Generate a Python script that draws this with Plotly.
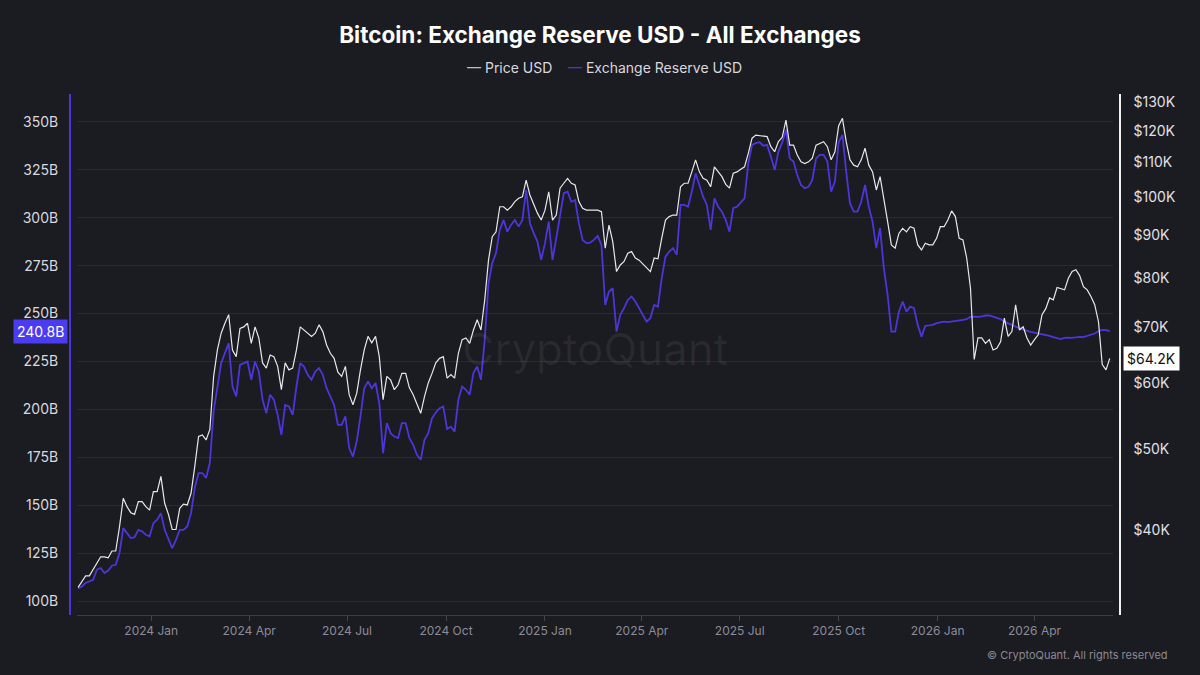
import math
import pandas as pd
import plotly.graph_objects as go

# ---------------- data (readings every 3.5 days from the chart) ----------------
start_date = "2023-10-25"

price_usd_k = [
    34.2, 34.8, 35.3, 35.3, 35.9, 36.6, 37.2, 37.2, 37.1, 37.8,
    37.8, 40.4, 43.7, 42.7, 42.0, 41.8, 43.3, 43.3, 42.7, 42.3,
    44.5, 44.5, 46.4, 43.1, 41.8, 40.1, 40.1, 42.5, 43.0, 42.9,
    44.3, 47.7, 51.8, 52.0, 51.3, 52.8, 61.1, 65.7, 68.8, 70.7,
    72.4, 65.7, 64.5, 69.7, 70.0, 70.7, 66.9, 70.0, 67.9, 63.4,
    62.5, 64.8, 64.5, 62.8, 58.9, 63.4, 62.2, 62.5, 65.7, 70.0,
    69.4, 68.8, 68.2, 68.8, 70.4, 69.1, 66.6, 65.1, 64.2, 61.8,
    61.1, 62.8, 58.1, 56.5, 58.3, 62.2, 65.7, 68.2, 67.0, 68.2,
    64.5, 57.3, 61.1, 60.5, 58.9, 59.7, 61.6, 61.6, 59.2, 58.1,
    56.5, 55.2, 57.8, 60.0, 61.6, 63.4, 64.2, 64.5, 60.8, 61.4,
    60.8, 65.1, 67.6, 67.9, 66.9, 69.4, 71.4, 69.4, 75.4, 84.1,
    89.7, 90.9, 97.4, 97.4, 96.5, 97.4, 98.8, 99.7, 100.1, 104.8,
    100.6, 97.9, 95.7, 93.9, 96.5, 101.5, 93.9, 95.2, 102.5, 103.9,
    105.3, 103.9, 103.4, 98.8, 97.0, 96.5, 96.5, 96.5, 96.5, 96.1,
    86.9, 92.6, 88.5, 81.5, 83.0, 83.8, 85.7, 86.1, 84.6, 84.1,
    83.2, 82.3, 81.5, 84.6, 84.4, 89.3, 93.9, 94.8, 95.2, 95.2,
    102.9, 103.9, 103.9, 107.2, 110.8, 107.2, 105.3, 104.8, 102.9, 108.7,
    107.2, 105.8, 103.6, 102.5, 106.8, 107.2, 108.0, 108.7, 112.8, 117.6,
    118.6, 118.4, 118.1, 118.1, 114.9, 113.3, 116.5, 117.9, 123.6, 115.4,
    115.4, 112.3, 110.2, 109.7, 110.2, 111.3, 115.4, 116.0, 116.5, 114.9,
    110.8, 113.3, 121.7, 124.2, 116.5, 110.8, 109.2, 108.7, 110.8, 114.4,
    109.2, 107.2, 102.0, 105.8, 98.8, 93.5, 87.7, 86.9, 90.5, 91.8,
    90.9, 92.2, 91.8, 87.7, 86.5, 88.1, 87.7, 87.7, 89.3, 92.2,
    92.2, 93.9, 96.3, 94.8, 89.3, 88.9, 84.6, 77.9, 64.0, 67.9,
    67.9, 66.9, 67.6, 65.7, 66.0, 67.2, 71.7, 68.2, 69.1, 74.4,
    69.4, 70.0, 67.9, 66.6, 67.6, 68.5, 72.4, 73.6, 75.8, 75.4,
    78.0, 77.7, 77.5, 80.0, 81.5, 81.9, 80.6, 78.2, 77.5, 76.1,
    74.4, 71.0, 63.1, 62.2, 64.2,
]

reserve_usd_b = [
    106.8, 107.8, 109.6, 110.4, 111.3, 116.5, 117.4, 114.8, 116.1, 118.6,
    119.1, 125.2, 138.2, 135.6, 133.0, 133.5, 137.3, 136.5, 134.7, 133.9,
    140.8, 142.6, 146.0, 137.3, 133.0, 127.8, 132.1, 137.3, 137.3, 139.1,
    146.0, 159.1, 166.9, 166.9, 164.3, 172.1, 199.0, 212.0, 224.2, 229.4,
    234.6, 212.0, 206.8, 223.3, 224.2, 225.0, 215.5, 225.0, 219.8, 205.1,
    198.1, 207.7, 205.1, 197.2, 186.8, 202.4, 201.6, 197.2, 212.0, 224.2,
    222.4, 218.1, 215.5, 219.8, 221.6, 218.1, 211.1, 206.8, 202.4, 192.0,
    192.0, 196.4, 179.9, 175.5, 183.3, 196.4, 211.1, 214.6, 211.1, 213.8,
    203.3, 177.3, 192.9, 187.7, 185.9, 185.1, 192.9, 192.9, 185.1, 181.6,
    176.4, 173.8, 184.2, 187.7, 195.5, 198.4, 200.7, 201.6, 189.8, 191.1,
    188.5, 205.1, 212.0, 210.3, 207.7, 219.0, 222.4, 215.5, 236.3, 265.8,
    276.3, 281.5, 293.6, 298.8, 292.7, 296.2, 298.8, 295.3, 298.8, 314.4,
    297.1, 291.9, 287.5, 278.0, 286.7, 297.9, 278.0, 289.3, 302.3, 312.7,
    313.5, 308.3, 309.2, 297.1, 288.4, 286.7, 287.0, 288.4, 290.5, 285.8,
    254.5, 261.5, 263.2, 240.6, 249.3, 252.8, 257.1, 258.9, 256.3, 252.8,
    249.7, 245.8, 247.6, 254.5, 253.6, 268.4, 279.7, 282.3, 284.1, 280.6,
    306.6, 306.6, 305.7, 313.5, 323.1, 317.0, 310.9, 306.6, 293.6, 310.1,
    305.7, 303.1, 298.8, 292.7, 304.9, 305.7, 308.0, 310.1, 328.3, 337.9,
    338.8, 339.3, 337.5, 337.9, 331.8, 324.8, 334.4, 339.1, 345.7, 330.9,
    329.2, 322.2, 317.0, 315.3, 316.1, 319.6, 330.9, 332.7, 332.7, 329.2,
    313.5, 318.8, 339.3, 343.1, 324.0, 307.5, 303.1, 303.1, 308.3, 317.0,
    305.7, 297.9, 284.1, 294.5, 273.6, 259.7, 240.6, 240.6, 251.0, 256.3,
    251.0, 253.6, 252.8, 244.1, 238.0, 243.6, 243.8, 244.1, 245.0, 245.5,
    245.8, 245.5, 245.8, 245.8, 246.4, 246.7, 247.1, 248.3, 248.4, 248.3,
    248.6, 249.0, 249.0, 248.4, 247.9, 247.1, 245.8, 244.8, 244.1, 243.2,
    242.4, 241.5, 241.0, 240.5, 240.1, 239.8, 239.4, 238.9, 238.4, 237.7,
    237.0, 236.7, 237.3, 237.5, 237.3, 237.5, 237.9, 237.7, 238.4, 239.1,
    239.6, 240.8, 241.5, 241.4, 240.8,
]

dates = pd.date_range(start_date, periods=len(price_usd_k), freq="84h")

x_tick_dates = ["2024-01-01", "2024-04-01", "2024-07-01", "2024-10-01", "2025-01-01",
                "2025-04-01", "2025-07-01", "2025-10-01", "2026-01-01", "2026-04-01"]
x_tick_labels = ["2024 Jan", "2024 Apr", "2024 Jul", "2024 Oct", "2025 Jan",
                 "2025 Apr", "2025 Jul", "2025 Oct", "2026 Jan", "2026 Apr"]

left_ticks = [100, 125, 150, 175, 200, 225, 250, 275, 300, 325, 350]
left_labels = [f"{v}B" for v in left_ticks]

right_ticks_k = [40, 50, 60, 70, 80, 90, 100, 110, 120, 130]
right_labels = [f"${v}K" for v in right_ticks_k]

last_reserve_label = "240.8B"
last_price_label = "$64.2K"

# ---------------- styling ----------------
BG = "#1b1b22"
PURPLE = "#4a37d9"
WHITE = "#e8e8ec"
GRID = "#2a2a33"
FONT = "Inter"

fig = go.Figure()

fig.add_trace(go.Scatter(
    x=dates, y=reserve_usd_b, name="Exchange Reserve USD", mode="lines",
    line=dict(color=PURPLE, width=1.8), yaxis="y", showlegend=False,
))
fig.add_trace(go.Scatter(
    x=dates, y=[v * 1000 for v in price_usd_k], name="Price USD", mode="lines",
    line=dict(color=WHITE, width=1.2), yaxis="y2", showlegend=False,
))

fig.update_layout(
    width=1200, height=675,
    paper_bgcolor=BG, plot_bgcolor=BG,
    margin=dict(l=70, r=80, t=94, b=60),
    font=dict(family=FONT, color="#d8d8de"),
    title=dict(
        text="Bitcoin: Exchange Reserve USD - All Exchanges",
        x=0.5, xref="container", xanchor="center",
        y=1 - 35 / 675, yref="container", yanchor="middle",
        font=dict(family=FONT, size=22.5, color="#ffffff", weight=700),
    ),
    xaxis=dict(
        type="date", domain=[7 / 1050, 1 - 7 / 1050],
        range=["2023-10-24", "2026-06-13"],
        tickvals=x_tick_dates, ticktext=x_tick_labels,
        ticks="outside", ticklen=5, tickcolor="#44444d",
        showline=True, linecolor="#3c3c45", linewidth=1,
        showgrid=False, zeroline=False,
        tickfont=dict(family=FONT, size=12, color="#8c8c97"),
    ),
    yaxis=dict(
        anchor="free", position=0, side="left",
        range=[92.92, 364.43],
        tickvals=left_ticks, ticktext=left_labels,
        showline=True, linecolor=PURPLE, linewidth=2,
        showgrid=True, gridcolor=GRID, gridwidth=1, zeroline=False,
        ticks="", ticklabelstandoff=8,
        tickfont=dict(family=FONT, size=14, color="#d8d8de"),
    ),
    yaxis2=dict(
        anchor="free", position=1, side="right", overlaying="y",
        type="log", range=[math.log10(31700), math.log10(132800)],
        tickvals=[v * 1000 for v in right_ticks_k], ticktext=right_labels,
        showline=True, linecolor="#f0f0f0", linewidth=1.5,
        showgrid=False, zeroline=False,
        ticks="", ticklabelstandoff=10,
        tickfont=dict(family=FONT, size=14, color="#e0e0e6"),
    ),
)

annotations = [
    # watermark
    dict(text="CryptoQuant", x=0.5, y=0.51, xref="paper", yref="paper",
         showarrow=False, font=dict(family=FONT, size=44, color="rgba(255,255,255,0.06)")),
    # legend
    dict(text="<span style='color:#bdbdc4'>—</span> Price USD",
         x=(465 - 70) / 1050, y=(615 - 68) / 521, xref="paper", yref="paper",
         xanchor="left", yanchor="middle", showarrow=False,
         font=dict(family=FONT, size=14, color="#d8d8de")),
    dict(text=f"<span style='color:{PURPLE}'>—</span> Exchange Reserve USD",
         x=(566 - 70) / 1050, y=(615 - 68) / 521, xref="paper", yref="paper",
         xanchor="left", yanchor="middle", showarrow=False,
         font=dict(family=FONT, size=14, color="#d8d8de")),
    # last-value badges
    dict(text=last_reserve_label, x=0, y=reserve_usd_b[-1], xref="paper", yref="y",
         xanchor="right", yanchor="middle", showarrow=False, xshift=-2,
         bgcolor="#4b3cf2", borderpad=3,
         font=dict(family=FONT, size=14, color="#ffffff")),
    dict(text=last_price_label, x=1, y=math.log10(price_usd_k[-1] * 1000), xref="paper", yref="y2",
         xanchor="left", yanchor="middle", showarrow=False, xshift=3,
         bgcolor="#ffffff", borderpad=3,
         font=dict(family=FONT, size=14, color="#111111")),
    # footer
    dict(text="© CryptoQuant. All rights reserved", x=(1170 - 70) / 1050, y=(615 - 655) / 521,
         xref="paper", yref="paper", xanchor="right", yanchor="middle", showarrow=False,
         font=dict(family=FONT, size=11, color="#8a8a94")),
]
fig.update_layout(annotations=annotations)

fig.write_html(
    "out.html",
    config={"displayModeBar": False},
    post_script="document.body.style.margin='0';document.body.style.padding='0';"
                "document.body.style.background='#1b1b22';",
)
